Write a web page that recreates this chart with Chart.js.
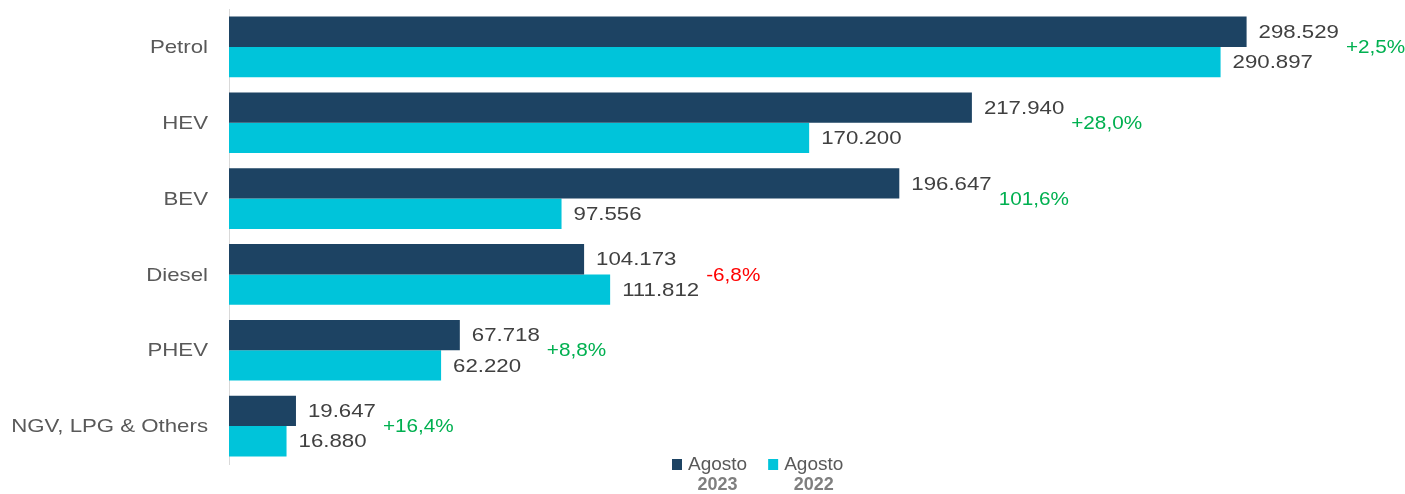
<!DOCTYPE html>
<html>
<head>
<meta charset="utf-8">
<script src="https://cdn.jsdelivr.net/npm/chart.js@4"></script>
<style>
  html, body { margin: 0; padding: 0; background: #fff; }
  #wrap { width: 1405px; height: 494px; }
</style>
</head>
<body>
<div id="wrap"><canvas id="chart" width="1405" height="494"></canvas></div>
<script>
const categories = ["Petrol", "HEV", "BEV", "Diesel", "PHEV", "NGV, LPG & Others"];
const values2023 = [298529, 217940, 196647, 104173, 67718, 19647];
const values2022 = [290897, 170200, 97556, 111812, 62220, 16880];
const changeLabels = ["+2,5%", "+28,0%", "101,6%", "-6,8%", "+8,8%", "+16,4%"];
const seriesNames = ["Agosto", "Agosto"];
const seriesYears = ["2023", "2022"];

const DARK = "#1d4363";
const CYAN = "#00c4da";
const FONT = "'Liberation Sans', Arial, sans-serif";

const fmt = (v) => v.toLocaleString("de-DE");

// the source picture has horizontally stretched text, so draw it scaled
function stretchText(ctx, txt, x, y, sx, align) {
  const w = ctx.measureText(txt).width * sx;
  const left = align === "right" ? x - w : align === "center" ? x - w / 2 : x;
  ctx.save();
  ctx.translate(left, y);
  ctx.scale(sx, 1);
  ctx.textAlign = "left";
  ctx.fillText(txt, 0, 0);
  ctx.restore();
  return w;
}

const labelPlugin = {
  id: "labels",
  afterDatasetsDraw(chart) {
    const ctx = chart.ctx;
    ctx.save();
    ctx.textBaseline = "middle";

    // category labels
    const yScale = chart.scales.y;
    ctx.font = "19px " + FONT;
    ctx.fillStyle = "#595959";
    categories.forEach((c, i) => {
      stretchText(ctx, c, yScale.right - 21, yScale.getPixelForValue(i) + 1, 1.17, "right");
    });

    // value labels
    const ends = categories.map(() => 0);
    chart.data.datasets.forEach((ds, di) => {
      chart.getDatasetMeta(di).data.forEach((bar, i) => {
        const x = bar.x + 12;
        ctx.fillStyle = "#404040";
        const w = stretchText(ctx, fmt(ds.data[i]), x, bar.y + 1, 1.17, "left");
        ends[i] = Math.max(ends[i], x + w);
      });
    });

    // change labels
    const m0 = chart.getDatasetMeta(0).data;
    const m1 = chart.getDatasetMeta(1).data;
    changeLabels.forEach((txt, i) => {
      ctx.fillStyle = txt.startsWith("-") ? "#ff0000" : "#00b050";
      stretchText(ctx, txt, ends[i] + 7, (m0[i].y + m1[i].y) / 2 + 1, 1.09, "left");
    });

    // legend
    const colors = [DARK, CYAN];
    let x = 672;
    colors.forEach((c, i) => {
      ctx.fillStyle = c;
      ctx.fillRect(x, 459, 10, 11);
      const tx = x + 16;
      ctx.font = "19px " + FONT;
      ctx.fillStyle = "#595959";
      const w = stretchText(ctx, seriesNames[i], tx, 465, 1.0, "left");
      ctx.font = "bold 18px " + FONT;
      ctx.fillStyle = "#7f7f7f";
      stretchText(ctx, seriesYears[i], tx + w / 2, 485, 1.0, "center");
      x = tx + w + 21;
    });
    ctx.restore();
  },
};

new Chart(document.getElementById("chart").getContext("2d"), {
  type: "bar",
  data: {
    labels: categories,
    datasets: [
      {
        label: seriesNames[0] + " " + seriesYears[0],
        data: values2023,
        backgroundColor: DARK,
        categoryPercentage: 0.8,
        barPercentage: 1.0,
      },
      {
        label: seriesNames[1] + " " + seriesYears[1],
        data: values2022,
        backgroundColor: CYAN,
        categoryPercentage: 0.8,
        barPercentage: 1.0,
      },
    ],
  },
  options: {
    indexAxis: "y",
    responsive: false,
    animation: false,
    layout: { padding: { top: 9, bottom: 30, left: 0, right: 0 } },
    plugins: {
      legend: { display: false },
      tooltip: { enabled: false },
    },
    scales: {
      x: {
        display: false,
        min: 0,
        max: 345000,
      },
      y: {
        afterFit: (scale) => {
          scale.width = 229;
        },
        grid: { display: false, drawTicks: false },
        border: { color: "#d9d9d9", width: 1 },
        ticks: { display: false },
      },
    },
  },
  plugins: [labelPlugin],
});
</script>
</body>
</html>
